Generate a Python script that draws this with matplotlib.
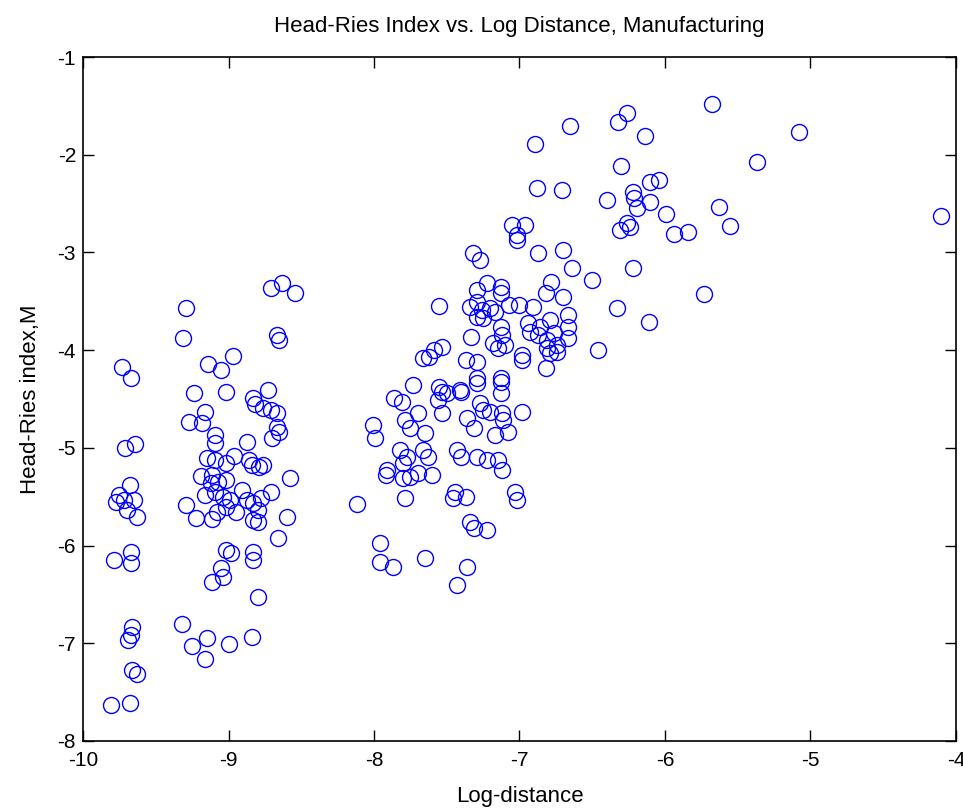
import matplotlib
matplotlib.use("Agg")
import matplotlib.pyplot as plt
import numpy as np

plt.rcParams['font.family'] = ['Liberation Sans Narrow', 'Liberation Sans', 'DejaVu Sans']
plt.rcParams['axes.unicode_minus'] = False

# left column, log-distance about -9.7
x_a = [-9.73, -9.67, -9.71, -9.64, -9.68, -9.75, -9.77, -9.72, -9.65, -9.70, -9.63,
       -9.79, -9.67, -9.67, -9.66, -9.67, -9.69, -9.66, -9.63, -9.81, -9.68]
y_a = [-4.17, -4.28, -5.00, -4.96, -5.38, -5.48, -5.55, -5.53, -5.53, -5.64, -5.71,
       -6.15, -6.07, -6.18, -6.83, -6.92, -6.97, -7.27, -7.31, -7.63, -7.61]

# cluster around -9
x_b = [-9.29, -9.31, -8.71, -8.63, -8.54, -8.67, -8.65, -9.14, -9.05, -8.97,
       -9.24, -9.02, -8.83, -8.73, -8.82, -8.76, -8.71, -8.67, -8.67, -8.65, -8.70,
       -9.16, -9.27, -9.18, -9.09, -9.09, -8.87,
       -9.15, -9.09, -8.96, -9.02, -8.86, -8.84, -8.79, -8.76,
       -9.19, -9.11, -9.07, -9.12, -9.02, -8.58,
       -8.71, -8.78, -8.83, -8.80, -8.83, -8.80, -8.60, -8.66,
       -8.83, -8.83, -8.80, -8.84,
       -9.29, -9.22, -9.11, -9.02, -8.98, -9.05, -9.04, -9.11,
       -9.32, -9.25, -9.15, -9.16, -9.00,
       -9.09, -9.04, -8.99, -9.02, -8.95, -8.91, -8.87, -9.16, -9.08]
y_b = [-3.57, -3.88, -3.36, -3.31, -3.42, -3.85, -3.90, -4.14, -4.20, -4.06,
       -4.44, -4.43, -4.49, -4.41, -4.55, -4.59, -4.61, -4.64, -4.79, -4.84, -4.90,
       -4.63, -4.74, -4.75, -4.87, -4.95, -4.94,
       -5.10, -5.12, -5.08, -5.16, -5.12, -5.18, -5.20, -5.18,
       -5.29, -5.28, -5.35, -5.36, -5.33, -5.31,
       -5.45, -5.51, -5.56, -5.64, -5.74, -5.76, -5.71, -5.92,
       -6.07, -6.15, -6.53, -6.94,
       -5.59, -5.72, -5.73, -6.05, -6.08, -6.23, -6.32, -6.37,
       -6.80, -7.03, -6.95, -7.16, -7.01,
       -5.45, -5.50, -5.53, -5.61, -5.66, -5.43, -5.53, -5.48, -5.66]

# middle cluster, -8.1 to -6.9
x_c = [-8.12, -8.01, -7.99, -7.86, -7.81, -7.73, -7.70, -7.79, -7.75, -7.65,
       -7.82, -7.77, -7.66, -7.63, -7.80, -7.91, -7.92, -7.80, -7.75, -7.70, -7.60,
       -7.79, -7.96, -7.96, -7.87, -7.65,
       -7.55, -7.53, -7.56, -7.50, -7.41, -7.53, -7.59, -7.62, -7.66, -7.55, -7.53,
       -7.29, -7.13, -7.13, -7.27, -7.25, -7.20, -7.36, -7.31, -7.17, -7.11, -7.08, -6.98,
       -7.43, -7.40, -7.29, -7.22, -7.15, -7.12,
       -7.44, -7.46, -7.37, -7.03, -7.02,
       -7.34, -7.31, -7.22, -7.36, -7.43,
       -7.37, -7.29, -7.29, -7.13, -7.40, -7.12]
y_c = [-5.57, -4.77, -4.90, -4.49, -4.53, -4.36, -4.64, -4.72, -4.80, -4.85,
       -5.02, -5.09, -5.02, -5.09, -5.16, -5.23, -5.28, -5.31, -5.30, -5.26, -5.28,
       -5.51, -5.97, -6.17, -6.22, -6.13,
       -4.38, -4.43, -4.51, -4.44, -4.41, -3.97, -4.00, -4.07, -4.08, -3.55, -4.64,
       -4.34, -4.33, -4.44, -4.54, -4.61, -4.63, -4.69, -4.80, -4.87, -4.72, -4.84, -4.63,
       -5.02, -5.09, -5.09, -5.12, -5.12, -5.23,
       -5.45, -5.51, -5.50, -5.45, -5.53,
       -5.76, -5.82, -5.84, -6.22, -6.40,
       -4.10, -4.12, -4.28, -4.28, -4.43, -4.64]

# upper cluster, -7.4 to -6.2
x_d = [-7.05, -6.96, -7.02, -7.02, -7.32, -7.27, -6.87, -6.70, -6.64, -6.50, -6.22, -6.33, -6.46,
       -7.22, -7.29, -7.13, -7.13, -7.34, -7.29, -7.26, -7.20, -7.17, -7.29, -7.25,
       -7.07, -7.00, -6.91, -6.78, -6.82, -6.70, -6.67, -6.79,
       -6.94, -6.86, -6.93, -6.87, -6.81, -6.76, -6.67, -6.67,
       -7.13, -7.12, -7.18, -7.15, -7.10, -7.33,
       -6.98, -6.98, -6.81, -6.79, -6.74, -6.74, -6.82]
y_d = [-2.72, -2.72, -2.82, -2.87, -3.01, -3.08, -3.01, -2.98, -3.16, -3.28, -3.16, -3.57, -4.00,
       -3.31, -3.38, -3.35, -3.41, -3.56, -3.51, -3.59, -3.57, -3.61, -3.66, -3.67,
       -3.54, -3.54, -3.56, -3.30, -3.41, -3.46, -3.64, -3.69,
       -3.72, -3.76, -3.81, -3.85, -3.90, -3.82, -3.76, -3.88,
       -3.76, -3.85, -3.93, -3.98, -3.95, -3.87,
       -4.05, -4.10, -3.98, -4.03, -3.95, -4.02, -4.18]

# top right
x_e = [-5.68, -6.26, -6.32, -6.65, -6.14, -6.89, -6.30, -6.88, -6.71, -6.40,
       -6.22, -6.21, -6.19, -6.10, -6.04, -6.10, -5.99, -5.63, -5.55,
       -6.31, -6.26, -6.24, -5.94, -5.84, -5.08, -5.37, -4.10, -5.73, -6.11]
y_e = [-1.48, -1.57, -1.67, -1.71, -1.81, -1.89, -2.12, -2.34, -2.36, -2.46,
       -2.38, -2.44, -2.55, -2.28, -2.26, -2.48, -2.61, -2.53, -2.73,
       -2.77, -2.70, -2.74, -2.81, -2.79, -1.77, -2.07, -2.63, -3.43, -3.71]

log_dist = np.array(x_a + x_b + x_c + x_d + x_e)
hr_index = np.array(y_a + y_b + y_c + y_d + y_e)

fig = plt.figure(figsize=(9.63, 8.09), dpi=100)
ax = fig.add_axes([0.0862, 0.0841, 0.9065, 0.8454])
ax.plot(log_dist, hr_index, 'o', mfc='none', mec='blue', ms=11.5, mew=1.0)

ax.set_xlim(-10, -4)
ax.set_ylim(-8, -1)
ax.set_xticks(np.arange(-10, -3, 1))
ax.set_yticks(np.arange(-8, 0, 1))
ax.tick_params(direction='in', top=True, right=True, length=8, width=1, labelsize=15)
ax.tick_params(axis='x', pad=7)
ax.tick_params(axis='y', pad=5)
for s in ax.spines.values():
    s.set_linewidth(1.2)

ax.set_title("Head-Ries Index vs. Log Distance, Manufacturing", fontsize=16, pad=18)
ax.set_xlabel("Log-distance", fontsize=16, labelpad=12)
ax.set_ylabel("Head-Ries index,M", fontsize=16, labelpad=12)

fig.savefig("out.png", dpi=100)
